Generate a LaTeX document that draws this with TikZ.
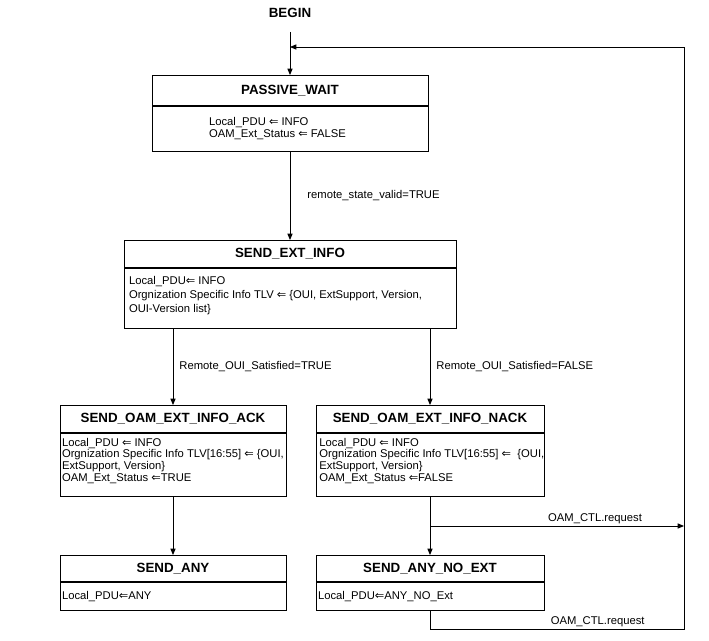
\documentclass[tikz,border=0pt]{standalone}
\usepackage{fontspec}
\setmainfont{Liberation Sans}
\newfontfamily\symfont{DejaVu Sans}
\usetikzlibrary{arrows.meta,positioning}

\newcommand{\lassign}{{\symfont ⇐}}

\begin{document}
\begin{tikzpicture}[
    line width=0.6pt,
    head/.style={draw, anchor=north, inner sep=0pt, font=\fontsize{9.5}{11}\selectfont\bfseries},
    body/.style={draw, anchor=north, inner sep=0pt},
    txt/.style={anchor=north west, align=left, inner sep=0pt, font=\fontsize{8}{8.4}\selectfont},
    lab/.style={inner sep=0pt, font=\fontsize{8}{9}\selectfont},
    flow/.style={-{Triangle[length=0.16cm,width=0.13cm]}}
]
    \useasboundingbox (0,0) rectangle (17.725,-16.025);

    % Start
    \node[head, draw=none, anchor=center] (begin) at (7.25,-0.325) {BEGIN};
    \coordinate (start) at (7.25,-0.8);

    % States: heading box and body box
    \foreach \id/\x/\y/\w/\hh/\hb/\title in {pw/7.25/-1.875/6.9/0.75/1.125/PASSIVE\_WAIT,
        ext/7.25/-6.0/8.3/0.675/1.5/SEND\_EXT\_INFO,
        ack/4.325/-10.125/5.65/0.675/1.575/SEND\_OAM\_EXT\_INFO\_ACK,
        nack/10.75/-10.125/5.7/0.675/1.575/SEND\_OAM\_EXT\_INFO\_NACK,
        any/4.325/-13.875/5.65/0.65/0.7/SEND\_ANY,
        anyne/10.75/-13.875/5.7/0.65/0.7/SEND\_ANY\_NO\_EXT} {
        \node[head, minimum width=\w cm, minimum height=\hh cm] (\id) at (\x,\y) {\title};
        \node[body, minimum width=\w cm, minimum height=\hb cm] (\id b) at (\id.south) {};
    }

    % Actions inside the states
    \node[txt, font=\fontsize{8}{8.5}\selectfont] (pwt) at ([xshift=1.425cm,yshift=-0.27cm]pwb.north west)
        {Local\_PDU \lassign{} INFO\\OAM\_Ext\_Status \lassign{} FALSE};
    \node[txt, font=\fontsize{8}{10}\selectfont] (extt) at ([xshift=0.125cm,yshift=-0.2cm]extb.north west)
        {Local\_PDU\lassign{} INFO\\Orgnization Specific Info TLV \lassign{} \{OUI, ExtSupport, Version,\\OUI-Version list\}};
    \node[txt, font=\fontsize{8}{8.3}\selectfont] (ackt) at ([xshift=0.05cm,yshift=-0.12cm]ackb.north west)
        {Local\_PDU \lassign{} INFO\\Orgnization Specific Info TLV[16:55] \lassign{} \{OUI,\\ExtSupport, Version\}\\OAM\_Ext\_Status \lassign TRUE};
    \node[txt, font=\fontsize{8}{8.3}\selectfont] (nackt) at ([xshift=0.085cm,yshift=-0.12cm]nackb.north west)
        {Local\_PDU \lassign{} INFO\\Orgnization Specific Info TLV[16:55] \lassign{}~ \{OUI,\\ExtSupport, Version\}\\OAM\_Ext\_Status \lassign FALSE};
    \node[txt, anchor=west] (anyt) at ([xshift=0.05cm]anyb.west) {Local\_PDU\lassign ANY};
    \node[txt, anchor=west] (anynet) at ([xshift=0.05cm]anyneb.west) {Local\_PDU\lassign ANY\_NO\_Ext};

    % Transitions
    \draw[flow] (start) -- (pw.north);
    \draw[flow] (pwb.south) -- node[lab, anchor=west, xshift=0.425cm] {remote\_state\_valid=TRUE} (ext.north);
    \draw[flow] (ack.north |- extb.south) -- node[lab, anchor=west, xshift=0.15cm] {Remote\_OUI\_Satisfied=TRUE} (ack.north);
    \draw[flow] (nack.north |- extb.south) -- node[lab, anchor=west, xshift=0.15cm] {Remote\_OUI\_Satisfied=FALSE} (nack.north);
    \draw[flow] (ackb.south) -- (any.north);
    \draw[flow] (nackb.south) -- (anyne.north);

    % Back to PASSIVE_WAIT
    \coordinate (rtop) at (17.1,-1.175);
    \coordinate (rbot) at (17.1,-15.725);
    \coordinate (split) at (nackb.south |- 0,-13.15);
    \draw[flow] (split) -- node[lab, above=0.05cm, pos=0.65] {OAM\_CTL.request} (split -| rtop);
    \draw[flow] (anyneb.south) |- node[lab, above=0.05cm, pos=0.83] {OAM\_CTL.request} (rbot) -- (rtop) -- (pw.north |- rtop);
\end{tikzpicture}
\end{document}
